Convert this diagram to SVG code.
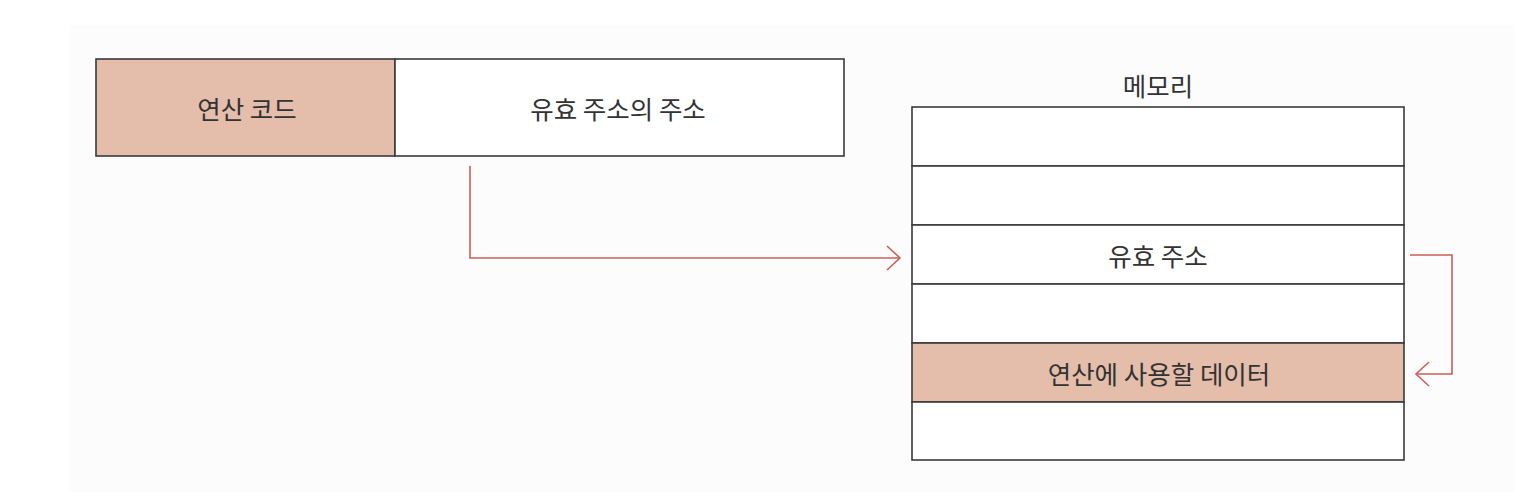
<svg xmlns="http://www.w3.org/2000/svg" width="1514" height="492" viewBox="0 0 1514 492">
<style>
  .box { stroke: #3a3a3a; stroke-width: 1.6; }
  .fill { fill: #e4bdab; }
  .plain { fill: #ffffff; }
  .lbl { font-family: "Noto Sans CJK KR", "Noto Sans", sans-serif; font-size: 25.5px; fill: #333333; text-anchor: middle; dominant-baseline: central; }
  .conn { fill: none; stroke: #c95f58; stroke-width: 1.6; stroke-linejoin: miter; }
</style>
<rect x="0" y="0" width="1514" height="492" fill="#ffffff"/>
<rect x="70" y="25" width="1444" height="467" fill="#fcfcfc"/>

<g id="instruction">
  <g id="opcode">
    <rect class="box fill" x="96" y="59" width="299" height="97"/>
    <text class="lbl" x="247" y="107">연산 코드</text>
  </g>
  <g id="operand">
    <rect class="box plain" x="395" y="59" width="449" height="97"/>
    <text class="lbl" x="618" y="107">유효 주소의 주소</text>
  </g>
</g>

<g id="memory">
  <text class="lbl" x="1158" y="84">메모리</text>
  <g id="mem-row1"><rect class="box plain" x="912" y="107" width="492" height="59"/></g>
  <g id="mem-row2"><rect class="box plain" x="912" y="166" width="492" height="59"/></g>
  <g id="mem-row3"><rect class="box plain" x="912" y="225" width="492" height="59"/>
    <text class="lbl" x="1158" y="254">유효 주소</text></g>
  <g id="mem-row4"><rect class="box plain" x="912" y="284" width="492" height="59"/></g>
  <g id="mem-row5"><rect class="box fill" x="912" y="343" width="492" height="59"/>
    <text class="lbl" x="1159" y="372">연산에 사용할 데이터</text></g>
  <g id="mem-row6"><rect class="box plain" x="912" y="402" width="492" height="58"/></g>
</g>

<g id="connectors">
  <path class="conn" d="M470,166 L470,258 L900,258"/>
  <path class="conn" d="M887,246 L900,258 L887,270"/>
  <path class="conn" d="M1410,255 L1452,255 L1452,374 L1416,374"/>
  <path class="conn" d="M1429,362 L1416,374 L1429,386"/>
</g>
</svg>
